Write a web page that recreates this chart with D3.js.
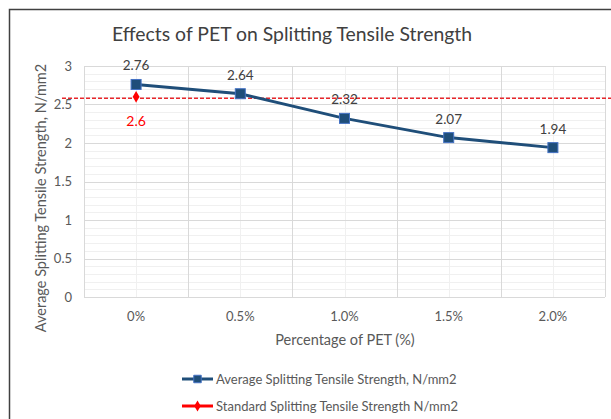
<!DOCTYPE html>
<html>
<head>
<meta charset="utf-8">
<script src="https://cdn.jsdelivr.net/npm/d3@7"></script>
<style>
  body { margin: 0; background: #fff; }
  svg text { font-family: Lato, "Open Sans", sans-serif; }
</style>
</head>
<body>
<div id="chart"></div>
<script>
// chart data
var categories = ["0%", "0.5%", "1.0%", "1.5%", "2.0%"];
var avgStrength = [2.76, 2.64, 2.32, 2.07, 1.94];
var standardValue = 2.6;
var yTicks = [0, 0.5, 1, 1.5, 2, 2.5, 3];

var width = 611, height = 419;
var plot = { left: 84, right: 605, top: 66, bottom: 297 };

var svg = d3.select("#chart").append("svg")
    .attr("width", width)
    .attr("height", height);

// chart frame
svg.append("rect")
    .attr("x", 9.5).attr("y", 9.5)
    .attr("width", 640).attr("height", 440)
    .attr("fill", "#fff")
    .attr("stroke", "#404040")
    .attr("stroke-width", 1.5);

var x = d3.scaleBand().domain(categories).range([plot.left, plot.right]);
var y = d3.scaleLinear().domain([0, 3]).range([plot.bottom, plot.top]);

// minor gridlines
var minorY = d3.range(0, 3.001, 0.1);
svg.append("g").selectAll("line").data(minorY).enter().append("line")
    .attr("x1", plot.left).attr("x2", plot.right)
    .attr("y1", function(d) { return Math.round(y(d)) + 0.5; })
    .attr("y2", function(d) { return Math.round(y(d)) + 0.5; })
    .attr("stroke", "#f0f0f0");
svg.append("g").selectAll("line").data(categories).enter().append("line")
    .attr("x1", function(d) { return Math.round(x(d) + x.bandwidth() / 2) + 0.5; })
    .attr("x2", function(d) { return Math.round(x(d) + x.bandwidth() / 2) + 0.5; })
    .attr("y1", plot.top).attr("y2", plot.bottom)
    .attr("stroke", "#f0f0f0");

// major gridlines
svg.append("g").selectAll("line").data(yTicks).enter().append("line")
    .attr("x1", plot.left).attr("x2", plot.right)
    .attr("y1", function(d) { return Math.round(y(d)) + 0.5; })
    .attr("y2", function(d) { return Math.round(y(d)) + 0.5; })
    .attr("stroke", "#d9d9d9");
var vEdges = categories.map(function(d) { return x(d); }).concat([plot.right]);
svg.append("g").selectAll("line").data(vEdges).enter().append("line")
    .attr("x1", function(d) { return Math.round(d) + 0.5; })
    .attr("x2", function(d) { return Math.round(d) + 0.5; })
    .attr("y1", plot.top).attr("y2", plot.bottom)
    .attr("stroke", "#d9d9d9");

// y axis labels
svg.append("g").selectAll("text").data(yTicks).enter().append("text")
    .attr("x", plot.left - 12)
    .attr("y", function(d) { return y(d) + 4.5; })
    .attr("text-anchor", "end")
    .attr("font-size", 13)
    .attr("fill", "#595959")
    .text(function(d) { return d; });

// x axis labels
svg.append("g").selectAll("text").data(categories).enter().append("text")
    .attr("x", function(d) { return x(d) + x.bandwidth() / 2; })
    .attr("y", 321)
    .attr("text-anchor", "middle")
    .attr("font-size", 13)
    .attr("fill", "#595959")
    .text(function(d) { return d; });

// titles
svg.append("text")
    .attr("x", 292).attr("y", 41)
    .attr("text-anchor", "middle")
    .attr("font-size", 19.4)
    .attr("fill", "#404040")
    .text("Effects of PET on Splitting Tensile Strength");

svg.append("text")
    .attr("transform", "translate(46,198) rotate(-90)")
    .attr("text-anchor", "middle")
    .attr("font-size", 14.5)
    .attr("fill", "#595959")
    .text("Average Splitting Tensile Strength, N/mm2");

svg.append("text")
    .attr("x", 345).attr("y", 345)
    .attr("text-anchor", "middle")
    .attr("font-size", 14.5)
    .attr("fill", "#595959")
    .text("Percentage of PET (%)");

// standard strength reference line
svg.append("line")
    .attr("x1", 62).attr("x2", width)
    .attr("y1", y(standardValue) + 1.5).attr("y2", y(standardValue) + 1.5)
    .attr("stroke", "#e8262b")
    .attr("stroke-width", 1.5)
    .attr("stroke-dasharray", "4,2");

// average series
var cx = function(i) { return x(categories[i]) + x.bandwidth() / 2; };
var line = d3.line()
    .x(function(d, i) { return cx(i); })
    .y(function(d) { return y(d); });

svg.append("path")
    .datum(avgStrength)
    .attr("d", line)
    .attr("fill", "none")
    .attr("stroke", "#1f4e79")
    .attr("stroke-width", 3);

svg.append("g").selectAll("rect").data(avgStrength).enter().append("rect")
    .attr("x", function(d, i) { return cx(i) - 5; })
    .attr("y", function(d) { return y(d) - 5; })
    .attr("width", 10).attr("height", 10)
    .attr("fill", "#1f4e79")
    .attr("stroke", "#4472c4")
    .attr("stroke-width", 1);

svg.append("g").selectAll("text").data(avgStrength).enter().append("text")
    .attr("x", function(d, i) { return cx(i); })
    .attr("y", function(d) { return y(d) - 14; })
    .attr("text-anchor", "middle")
    .attr("font-size", 13.5)
    .attr("fill", "#404040")
    .text(function(d) { return d.toFixed(2); });

// standard marker at 0%
svg.append("path")
    .attr("d", d3.symbol().type(d3.symbolDiamond).size(40)())
    .attr("transform", "translate(" + cx(0) + "," + y(standardValue) + ")")
    .attr("fill", "#ff0000");
svg.append("text")
    .attr("x", cx(0)).attr("y", y(standardValue) + 29)
    .attr("text-anchor", "middle")
    .attr("font-size", 14)
    .attr("fill", "#ff0000")
    .text(standardValue);

// legend
var legendItems = [
    { name: "Average Splitting Tensile Strength, N/mm2", color: "#1f4e79", marker: "square", y: 379 },
    { name: "Standard Splitting Tensile Strength N/mm2", color: "#ff0000", marker: "diamond", y: 406 }
];
var lg = svg.append("g").selectAll("g").data(legendItems).enter().append("g");
lg.append("line")
    .attr("x1", 182).attr("x2", 213)
    .attr("y1", function(d) { return d.y; }).attr("y2", function(d) { return d.y; })
    .attr("stroke", function(d) { return d.color; })
    .attr("stroke-width", 3);
lg.append("path")
    .attr("d", function(d) {
        return d.marker === "square"
            ? d3.symbol().type(d3.symbolSquare).size(56)()
            : d3.symbol().type(d3.symbolDiamond).size(36)();
    })
    .attr("transform", function(d) { return "translate(197.5," + d.y + ")"; })
    .attr("fill", function(d) { return d.color; })
    .attr("stroke", function(d) { return d.marker === "square" ? "#4472c4" : "none"; });
lg.append("text")
    .attr("x", 216)
    .attr("y", function(d) { return d.y + 4.5; })
    .attr("font-size", 13)
    .attr("fill", "#595959")
    .text(function(d) { return d.name; });
</script>
</body>
</html>
